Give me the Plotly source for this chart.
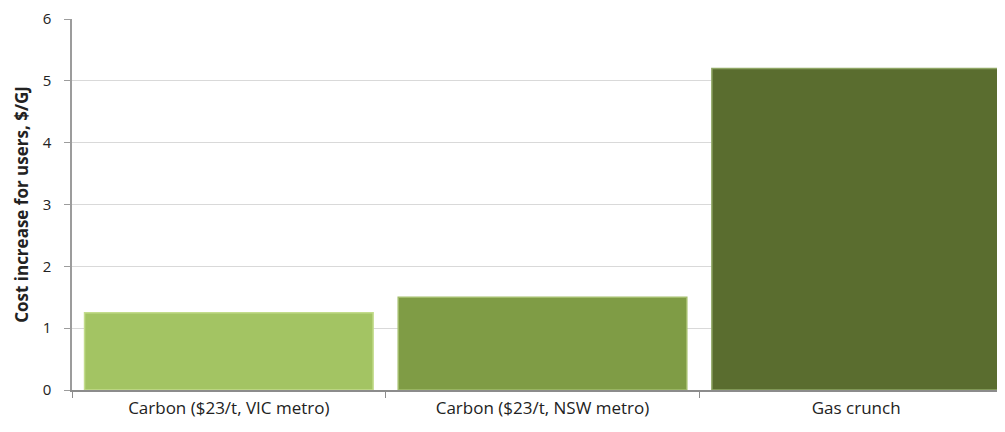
import plotly.graph_objects as go

categories = ["Carbon ($23/t, VIC metro)", "Carbon ($23/t, NSW metro)", "Gas crunch"]
values = [1.25, 1.5, 5.2]
colors = ["#A3C463", "#7F9C45", "#5A6D2F"]
edge_colors = ["#C3DC8C", "#A3BD6C", "#8FA665"]

fig = go.Figure(go.Bar(
    x=categories, y=values, width=0.92,
    marker=dict(color=colors, line=dict(color=edge_colors, width=1.5)),
))

fig.update_layout(
    width=1005, height=424,
    margin=dict(l=64, r=0, t=11, b=42),
    plot_bgcolor="white", paper_bgcolor="white",
    showlegend=False,
    font=dict(family="Open Sans, DejaVu Sans, sans-serif", size=12, color="#222"),
)
fig.update_xaxes(
    range=[-0.5, 2.5], showline=True, linecolor="#8C8C8C", linewidth=1.5,
    ticks="outside", tickson="boundaries", ticklen=6, tickcolor="#8C8C8C",
    tickfont=dict(size=17), showgrid=False, ticklabelstandoff=2,
)
fig.update_yaxes(
    range=[0, 6], dtick=1, showline=True, linecolor="#9C9C9C", linewidth=1.5,
    ticks="outside", ticklen=6, tickcolor="#9C9C9C", tickfont=dict(size=15),
    ticklabelstandoff=10,
    showgrid=True, gridcolor="#D9D9D9", gridwidth=1, zeroline=False,
    title=dict(text="<b>Cost increase for users, $/GJ</b>", font=dict(size=17), standoff=10),
)

fig.write_html("out.html")
